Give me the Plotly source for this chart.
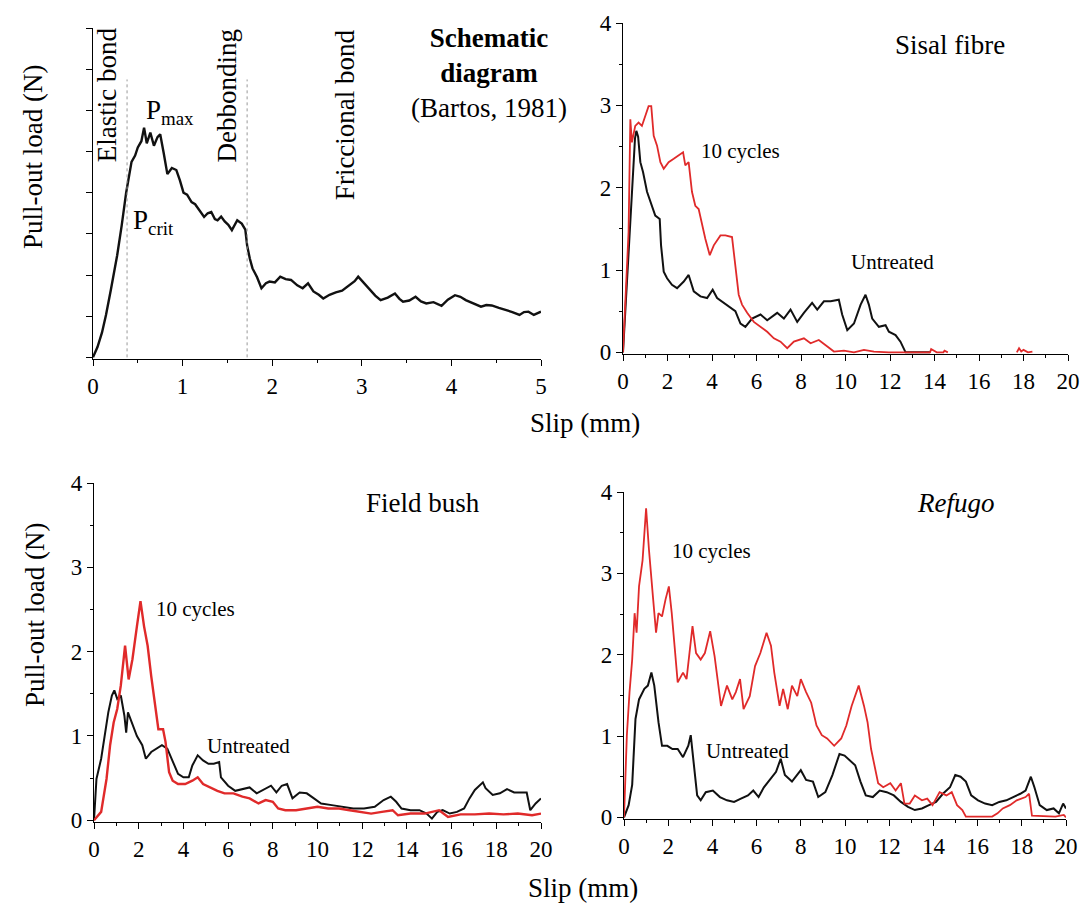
import plotly.graph_objects as go

# ---------------- data ----------------
# Schematic diagram (Bartos, 1981): slip (mm), load (arbitrary units 0-8)
schematic = [(0, 0), (0.05, 0.25), (0.1, 0.6), (0.145, 1.03), (0.2, 1.65), (0.27, 2.48), (0.32, 3.2),
             (0.37, 4.0), (0.43, 4.75), (0.47, 4.9), (0.5, 5.1), (0.54, 5.25), (0.57, 5.58), (0.6, 5.2),
             (0.64, 5.46), (0.68, 5.14), (0.72, 5.35), (0.75, 5.42), (0.79, 4.95), (0.83, 4.45), (0.88, 4.6),
             (0.93, 4.55), (0.97, 4.3), (1.01, 4.0), (1.05, 3.95), (1.10, 3.77), (1.14, 3.72), (1.18, 3.6),
             (1.24, 3.41), (1.28, 3.5), (1.32, 3.53), (1.36, 3.36), (1.39, 3.33), (1.43, 3.42), (1.47, 3.3),
             (1.51, 3.22), (1.55, 3.09), (1.61, 3.33), (1.66, 3.25), (1.70, 3.1), (1.72, 2.72), (1.75, 2.4),
             (1.78, 2.16), (1.83, 1.95), (1.88, 1.68), (1.93, 1.8), (1.97, 1.84), (2.03, 1.82), (2.09, 1.96),
             (2.15, 1.9), (2.21, 1.88), (2.28, 1.75), (2.34, 1.68), (2.40, 1.80), (2.46, 1.6), (2.52, 1.52),
             (2.57, 1.43), (2.64, 1.52), (2.71, 1.58), (2.78, 1.62), (2.86, 1.76), (2.92, 1.85), (2.96, 1.96),
             (3.02, 1.82), (3.08, 1.68), (3.15, 1.5), (3.21, 1.39), (3.29, 1.45), (3.37, 1.55), (3.42, 1.42),
             (3.46, 1.35), (3.53, 1.38), (3.60, 1.47), (3.66, 1.36), (3.72, 1.31), (3.80, 1.34), (3.89, 1.25),
             (3.96, 1.40), (4.04, 1.51), (4.10, 1.47), (4.16, 1.39), (4.25, 1.30), (4.33, 1.23), (4.39, 1.27),
             (4.45, 1.26), (4.53, 1.2), (4.61, 1.15), (4.68, 1.10), (4.76, 1.03), (4.81, 1.1), (4.86, 1.11),
             (4.92, 1.03), (5.0, 1.11)]
stage_bounds = [0.38, 1.72]   # dotted boundaries between bond stages
stage_top = 6.75

# Sisal fibre
sisal_untreated = [(0, 0), (0.3, 1.5), (0.54, 2.6), (0.6, 2.69), (0.68, 2.62), (0.78, 2.31), (0.9, 2.19),
                   (1.08, 1.95), (1.3, 1.78), (1.45, 1.66), (1.65, 1.62), (1.71, 1.30), (1.83, 0.98),
                   (1.98, 0.90), (2.2, 0.82), (2.43, 0.78), (2.73, 0.86), (2.95, 0.94), (3.18, 0.74),
                   (3.48, 0.68), (3.78, 0.66), (4.03, 0.76), (4.23, 0.66), (4.53, 0.60), (4.83, 0.54),
                   (5.05, 0.50), (5.28, 0.35), (5.5, 0.31), (5.8, 0.41), (6.18, 0.46), (6.48, 0.39),
                   (6.93, 0.48), (7.23, 0.41), (7.53, 0.52), (7.83, 0.37), (8.13, 0.48), (8.5, 0.60),
                   (8.73, 0.52), (9.03, 0.62), (9.33, 0.62), (9.7, 0.64), (9.85, 0.46), (10.08, 0.27),
                   (10.38, 0.35), (10.68, 0.58), (10.9, 0.70), (11.05, 0.58), (11.2, 0.41), (11.5, 0.31),
                   (11.8, 0.33), (11.95, 0.25), (12.25, 0.21), (12.47, 0.13), (12.7, 0), (13.4, 0), (13.8, 0)]
sisal_10cycles = [(0, 0), (0.25, 1.46), (0.33, 2.83), (0.4, 2.55), (0.55, 2.75), (0.7, 2.79), (0.85, 2.75),
                  (1.0, 2.87), (1.15, 2.99), (1.27, 2.99), (1.38, 2.63), (1.53, 2.51), (1.68, 2.31),
                  (1.83, 2.23), (2.05, 2.31), (2.28, 2.35), (2.5, 2.39), (2.7, 2.43), (2.8, 2.27),
                  (2.95, 2.31), (3.1, 1.95), (3.25, 1.78), (3.4, 1.74), (3.55, 1.54), (3.7, 1.38),
                  (3.9, 1.18), (4.08, 1.30), (4.38, 1.42), (4.6, 1.42), (4.9, 1.40), (5.05, 1.06),
                  (5.2, 0.70), (5.35, 0.58), (5.58, 0.48), (5.88, 0.37), (6.18, 0.31), (6.48, 0.25),
                  (6.78, 0.17), (7.08, 0.13), (7.38, 0.05), (7.68, 0.13), (8.13, 0.17), (8.43, 0.11),
                  (8.8, 0.15), (9.18, 0.07), (9.48, 0.01), (9.93, 0.02), (10.38, 0.0), (10.83, 0.03),
                  (11.28, 0.01), (11.95, 0), (12.6, 0), (13.2, 0), (13.8, 0), (13.85, 0.04), (14.1, 0),
                  (14.4, 0), (14.45, 0.02), (14.6, 0), (16.0, None), (17.7, 0), (17.8, 0.05), (17.9, 0.01),
                  (18.0, 0.03), (18.2, 0), (18.4, 0.01)]

# Field bush
field_untreated = [(0, 0), (0.11, 0.49), (0.32, 0.73), (0.48, 1.0), (0.64, 1.28), (0.8, 1.48), (0.91, 1.54),
                   (1.04, 1.44), (1.2, 1.48), (1.36, 1.24), (1.44, 1.04), (1.52, 1.28), (1.68, 1.16),
                   (1.92, 1.0), (2.16, 0.89), (2.32, 0.73), (2.56, 0.81), (2.8, 0.85), (3.04, 0.89),
                   (3.28, 0.85), (3.52, 0.71), (3.76, 0.55), (4.0, 0.51), (4.24, 0.51), (4.4, 0.65),
                   (4.64, 0.77), (4.88, 0.71), (5.12, 0.67), (5.36, 0.67), (5.6, 0.69), (5.68, 0.51),
                   (6.0, 0.41), (6.32, 0.35), (6.64, 0.37), (6.96, 0.39), (7.28, 0.32), (7.6, 0.37),
                   (7.92, 0.41), (8.16, 0.33), (8.4, 0.41), (8.64, 0.43), (8.88, 0.26), (9.2, 0.33),
                   (9.52, 0.32), (9.84, 0.26), (10.16, 0.2), (10.64, 0.18), (11.12, 0.16), (11.6, 0.14),
                   (12.08, 0.14), (12.56, 0.16), (12.96, 0.24), (13.28, 0.28), (13.52, 0.22), (13.76, 0.14),
                   (14.16, 0.12), (14.56, 0.12), (14.88, 0.08), (15.12, 0.02), (15.36, 0.10), (15.6, 0.12),
                   (15.92, 0.08), (16.24, 0.10), (16.56, 0.14), (16.8, 0.26), (17.04, 0.36), (17.4, 0.45),
                   (17.52, 0.38), (17.84, 0.30), (18.16, 0.32), (18.48, 0.37), (18.8, 0.33), (19.36, 0.33),
                   (19.52, 0.12), (19.76, 0.20), (20, 0.26)]
field_10cycles = [(0, 0), (0.32, 0.1), (0.56, 0.49), (0.72, 0.89), (0.88, 1.16), (1.04, 1.32), (1.2, 1.6),
                  (1.39, 2.07), (1.55, 1.67), (1.72, 1.91), (1.92, 2.3), (2.08, 2.6), (2.24, 2.3),
                  (2.4, 2.07), (2.56, 1.71), (2.72, 1.36), (2.88, 1.08), (3.09, 1.08), (3.2, 0.93),
                  (3.36, 0.57), (3.52, 0.47), (3.76, 0.43), (4.08, 0.43), (4.4, 0.47), (4.64, 0.51),
                  (4.88, 0.43), (5.2, 0.39), (5.52, 0.35), (5.84, 0.32), (6.24, 0.32), (6.64, 0.28),
                  (6.96, 0.26), (7.36, 0.20), (7.68, 0.24), (8.0, 0.22), (8.24, 0.14), (8.56, 0.12),
                  (9.04, 0.12), (9.52, 0.14), (10.0, 0.16), (10.48, 0.14), (10.96, 0.14), (11.44, 0.12),
                  (11.92, 0.10), (12.4, 0.08), (12.88, 0.10), (13.36, 0.12), (13.6, 0.06), (14.16, 0.08),
                  (14.8, 0.08), (15.44, 0.12), (15.84, 0.04), (16.4, 0.07), (17.04, 0.07), (17.68, 0.08),
                  (18.32, 0.07), (18.96, 0.08), (19.6, 0.06), (20, 0.08)]

# Refugo
refugo_untreated = [(0, 0), (0.21, 0.15), (0.37, 0.40), (0.52, 1.21), (0.68, 1.45), (0.92, 1.58),
                    (1.08, 1.62), (1.24, 1.78), (1.37, 1.62), (1.56, 1.17), (1.72, 0.88), (1.96, 0.88),
                    (2.19, 0.84), (2.43, 0.84), (2.67, 0.74), (2.91, 0.88), (3.02, 1.01), (3.15, 0.64),
                    (3.31, 0.27), (3.47, 0.21), (3.7, 0.31), (4.02, 0.33), (4.34, 0.25), (4.66, 0.21),
                    (4.98, 0.19), (5.29, 0.23), (5.61, 0.27), (5.85, 0.33), (6.09, 0.25), (6.33, 0.37),
                    (6.65, 0.48), (6.88, 0.56), (7.09, 0.72), (7.28, 0.52), (7.6, 0.44), (8.0, 0.58),
                    (8.24, 0.46), (8.55, 0.44), (8.79, 0.25), (9.11, 0.31), (9.43, 0.52), (9.75, 0.78),
                    (9.98, 0.76), (10.22, 0.70), (10.46, 0.64), (10.7, 0.44), (10.94, 0.27), (11.26, 0.25),
                    (11.57, 0.33), (11.89, 0.31), (12.21, 0.27), (12.53, 0.19), (12.85, 0.13), (13.16, 0.09),
                    (13.48, 0.11), (13.8, 0.15), (14.12, 0.19), (14.43, 0.29), (14.75, 0.37), (14.99, 0.52),
                    (15.23, 0.50), (15.47, 0.44), (15.71, 0.27), (16.02, 0.21), (16.34, 0.17), (16.66, 0.15),
                    (16.98, 0.19), (17.3, 0.21), (17.62, 0.25), (17.93, 0.29), (18.17, 0.33), (18.41, 0.50),
                    (18.57, 0.37), (18.81, 0.15), (19.13, 0.09), (19.44, 0.11), (19.68, 0.05), (19.87, 0.17),
                    (20, 0.11)]
refugo_10cycles = [(0, 0), (0.13, 1.01), (0.25, 1.54), (0.37, 1.94), (0.48, 2.51), (0.57, 2.27), (0.68, 2.84),
                   (0.84, 3.16), (1.0, 3.80), (1.13, 3.29), (1.32, 2.68), (1.45, 2.27), (1.56, 2.51),
                   (1.72, 2.47), (1.88, 2.68), (2.03, 2.84), (2.16, 2.51), (2.27, 2.19), (2.43, 1.66),
                   (2.67, 1.78), (2.83, 1.70), (3.1, 2.35), (3.26, 2.02), (3.47, 1.94), (3.66, 2.02),
                   (3.9, 2.29), (4.1, 1.98), (4.39, 1.37), (4.66, 1.62), (4.9, 1.45), (5.06, 1.54),
                   (5.25, 1.70), (5.41, 1.33), (5.69, 1.49), (5.93, 1.86), (6.17, 2.02), (6.45, 2.27),
                   (6.65, 2.11), (6.8, 1.78), (7.04, 1.37), (7.2, 1.58), (7.41, 1.33), (7.6, 1.62),
                   (7.84, 1.49), (8.0, 1.70), (8.24, 1.54), (8.47, 1.41), (8.71, 1.13), (8.95, 1.01),
                   (9.19, 0.97), (9.51, 0.88), (9.83, 0.97), (10.06, 1.13), (10.3, 1.37), (10.62, 1.62),
                   (10.86, 1.37), (11.02, 1.17), (11.18, 0.84), (11.34, 0.64), (11.5, 0.42), (11.73, 0.37),
                   (12.05, 0.42), (12.29, 0.33), (12.53, 0.42), (12.69, 0.17), (12.93, 0.17), (13.16, 0.27),
                   (13.48, 0.21), (13.72, 0.23), (13.96, 0.15), (14.28, 0.31), (14.59, 0.27), (14.83, 0.31),
                   (15.07, 0.15), (15.31, 0.09), (15.47, 0.01), (16.02, 0.01), (16.66, 0.01), (16.9, 0.05),
                   (17.14, 0.11), (17.46, 0.15), (17.77, 0.21), (18.17, 0.25), (18.33, 0.29), (18.46, 0.02),
                   (19.05, 0.01), (19.52, 0.01), (19.9, 0.03), (20, 0)]

BLACK = "#111111"
RED = "#e02a2a"
FONT = "Liberation Serif"

fig = go.Figure()


def add_line(points, color, xa, ya, width=2.0):
    fig.add_trace(go.Scatter(x=[p[0] for p in points], y=[p[1] for p in points], mode="lines",
                             line=dict(color=color, width=width), xaxis=xa, yaxis=ya,
                             showlegend=False, hoverinfo="skip", connectgaps=False))


add_line(schematic, BLACK, "x", "y", 2.4)
add_line(sisal_untreated, BLACK, "x2", "y2")
add_line(sisal_10cycles, RED, "x2", "y2", 1.8)
add_line(field_untreated, BLACK, "x3", "y3")
add_line(field_10cycles, RED, "x3", "y3", 2.4)
add_line(refugo_untreated, BLACK, "x4", "y4")
add_line(refugo_10cycles, RED, "x4", "y4", 1.8)

W, H = 1087, 908


def dom_x(a, b):
    return [a / W, b / W]


def dom_y(top, bottom):
    return [1 - bottom / H, 1 - top / H]


tickfont = dict(family=FONT, size=23, color="black")


def xax(domain, anchor, rng, dtick, minor):
    return dict(domain=domain, anchor=anchor, range=rng, dtick=dtick, tick0=0, showgrid=False,
                zeroline=False, showline=True, linecolor="black", linewidth=1.2, ticks="outside",
                ticklen=6, tickwidth=1.2, tickcolor="black", tickfont=tickfont, automargin=False,
                minor=dict(dtick=minor, tick0=0, ticks="outside", ticklen=3, tickcolor="black", tickwidth=1.2,
                           showgrid=False))


def yax(domain, anchor, rng, dtick, minor, labels=True):
    d = xax(domain, anchor, rng, dtick, minor)
    d["showticklabels"] = labels
    return d


layout = dict(
    width=W, height=H, margin=dict(l=0, r=0, t=0, b=0, autoexpand=False),
    paper_bgcolor="white", plot_bgcolor="white",
    xaxis=xax(dom_x(93, 541), "y", [0, 5], 1, 0.5),
    yaxis=yax(dom_y(28, 359), "x", [-0.04, 8], 1, 1, labels=False),
    xaxis2=xax(dom_x(623, 1068), "y2", [0, 20], 2, 1),
    yaxis2=yax(dom_y(23, 354), "x2", [-0.02, 4], 1, 0.5),
    xaxis3=xax(dom_x(94, 541), "y3", [0, 20], 2, 1),
    yaxis3=yax(dom_y(483, 822), "x3", [-0.02, 4], 1, 0.5),
    xaxis4=xax(dom_x(624, 1066), "y4", [0, 20], 2, 1),
    yaxis4=yax(dom_y(492, 819), "x4", [-0.02, 4], 1, 0.5),
)
fig.update_layout(**layout)

# dotted stage boundaries in the schematic
for xb in stage_bounds:
    fig.add_shape(type="line", xref="x", yref="y", x0=xb, x1=xb, y0=0, y1=stage_top,
                  line=dict(color="#999999", width=1, dash="dot"))

big = dict(family=FONT, size=27, color="black")
small = dict(family=FONT, size=21, color="black")


def ann(text, x, y, xref, yref, font, angle=0, **kw):
    fig.add_annotation(text=text, x=x, y=y, xref=xref, yref=yref, showarrow=False, font=font,
                       textangle=angle, xanchor="center", yanchor="middle", **kw)


# schematic texts
ann("Elastic bond", 0.15, 6.38, "x", "y", big, -90)
ann("Debbonding", 1.49, 6.35, "x", "y", big, -90)
ann("Friccional bond", 2.82, 5.9, "x", "y", big, -90)
ann("P<sub>max</sub>", 0.86, 5.97, "x", "y", big)
ann("P<sub>crit</sub>", 0.68, 3.28, "x", "y", big)
ann("<b>Schematic</b><br><b>diagram</b><br>(Bartos, 1981)", 4.42, 6.91, "x", "y", big)

# panel titles
ann("Sisal fibre", 14.7, 3.73, "x2", "y2", big)
ann("Field bush", 14.7, 3.76, "x3", "y3", big)
ann("<i>Refugo</i>", 15.0, 3.87, "x4", "y4", big)

# curve labels
ann("10 cycles", 5.26, 2.44, "x2", "y2", small)
ann("Untreated", 12.09, 1.10, "x2", "y2", small)
ann("10 cycles", 4.56, 2.50, "x3", "y3", small)
ann("Untreated", 6.93, 0.88, "x3", "y3", small)
ann("10 cycles", 3.98, 3.27, "x4", "y4", small)
ann("Untreated", 5.57, 0.82, "x4", "y4", small)

# axis titles
ann("Slip (mm)", 585 / W, 1 - 423 / H, "paper", "paper", big)
ann("Slip (mm)", 583 / W, 1 - 888 / H, "paper", "paper", big)
ann("Pull-out load (N)", 33 / W, 1 - 157 / H, "paper", "paper", big, -90)
ann("Pull-out load (N)", 35 / W, 1 - 615 / H, "paper", "paper", big, -90)

fig.write_html("out.html", config={"displayModeBar": False},
               post_script="document.body.style.margin='0';document.body.style.overflow='hidden';")
